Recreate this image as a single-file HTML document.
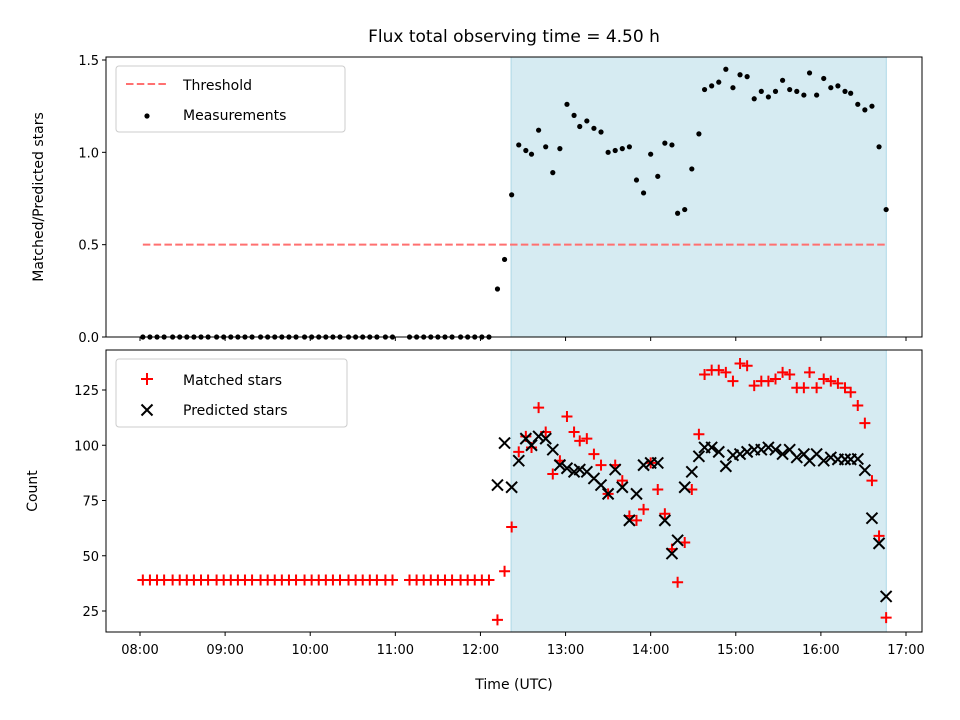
<!DOCTYPE html>
<html><head><meta charset="utf-8"><style>
body{margin:0;background:#fff;}
svg{display:block;font-family:"DejaVu Sans","Liberation Sans",sans-serif;}
</style></head><body>
<svg id="chart" width="960" height="720" viewBox="0 0 960 720" xmlns="http://www.w3.org/2000/svg">
<text x="514" y="42" font-size="17" text-anchor="middle">Flux total observing time = 4.50 h</text>
</svg>
<script>
// minutes after 08:00
const preTimes = [2,7,12,17,23,28,33,38,43,48,54,59,64,69,74,79,85,90,95,100,105,110,116,121,126,131,136,141,147,152,157,162,167,173,178,190,195,200,205,210,215,220,226,231,236,241,246];
const preMatched = [39,39,39,39,39,39,39,39,39,39,39,39,39,39,39,39,39,39,39,39,39,39,39,39,39,39,39,39,39,39,39,39,39,39,39,39,39,39,39,39,39,39,39,39,39,39,39];
const obsTimes = [252,257,262,267,272,276,281,286,291,296,301,306,310,315,320,325,330,335,340,345,350,355,360,365,370,375,379,384,389,394,398,403,408,413,418,423,428,433,438,443,448,453,458,463,468,472,477,482,487,492,497,501,506,511,516,521,526];
const measurements = [0.26,0.42,0.77,1.04,1.01,0.99,1.12,1.03,0.89,1.02,1.26,1.20,1.14,1.17,1.13,1.11,1.00,1.01,1.02,1.03,0.85,0.78,0.99,0.87,1.05,1.04,0.67,0.69,0.91,1.10,1.34,1.36,1.38,1.45,1.35,1.42,1.41,1.29,1.33,1.30,1.33,1.39,1.34,1.33,1.31,1.43,1.31,1.40,1.35,1.36,1.33,1.32,1.26,1.23,1.25,1.03,0.69];
const matched = [21,43,63,97,104,99,117,106,87,93,113,106,102,103,96,91,78,91,84,68,66,71,92,80,69,53,38,56,80,105,132,134,134,133,129,137,136,127,129,129,130,133,132,126,126,133,126,130,129,128,126,124,118,110,84,59,22];
const predicted = [82,101,81,93,103,100,104,103,98,91,89.6,88,89,88,85,82,78,89,81,66,78,91,92,92,66,51,57,81,88,95,99,99,97,90.5,95.5,96,97,98,98,99,98,96,98,94.5,96,93,96,93,94.5,93.6,93.6,93.6,93.8,88.7,67,55.6,31.6];
const threshold = 0.5;
const shadeStart = 261.6, shadeEnd = 526.1;
const xTicks = ["08:00","09:00","10:00","11:00","12:00","13:00","14:00","15:00","16:00","17:00"];
const topTicks = [0.0,0.5,1.0,1.5];
const botTicks = [25,50,75,100,125];

const NS="http://www.w3.org/2000/svg";
const svg=document.getElementById('chart');
function mk(tag,attrs,parent){const e=document.createElementNS(NS,tag);for(const k in attrs)e.setAttribute(k,attrs[k]);(parent||svg).appendChild(e);return e;}
const L=106,R=922;
const X=m=>140+m*(766/540);
const T={top:57,bot:337};const B={top:350,bot:632};
const Yt=v=>337-v*(277/1.5);
const Yb=v=>611-(v-25)*2.21;

for(const ax of [T,B]){
 const r=mk('rect',{x:X(shadeStart),y:ax.top,width:X(shadeEnd)-X(shadeStart),height:ax.bot-ax.top,fill:'#add8e6','fill-opacity':0.5,stroke:'#add8e6'});
 
 
}
const th=mk('line',{x1:X(2),x2:X(526),y1:Yt(threshold),y2:Yt(threshold),stroke:'#ff7070','stroke-width':2,'stroke-dasharray':'7.5,3.3'});


preTimes.forEach(t=>{const c=mk('circle',{cx:X(t),cy:Yt(0),r:2.6,fill:'#000'});
 
 });
obsTimes.forEach((t,i)=>{const c=mk('circle',{cx:X(t),cy:Yt(measurements[i]),r:2.6,fill:'#000'});
 
 });
function plus(x,y,name){const g=mk('path',{d:`M${x-5.5} ${y}H${x+5.5}M${x} ${y-5.5}V${y+5.5}`,stroke:'#ff0000','stroke-width':2});
 
 }
function cross(x,y,name){const g=mk('path',{d:`M${x-5.5} ${y-5.5}L${x+5.5} ${y+5.5}M${x-5.5} ${y+5.5}L${x+5.5} ${y-5.5}`,stroke:'#000','stroke-width':2});
 
 }
preTimes.forEach((t,i)=>plus(X(t),Yb(preMatched[i]),'matched-star-point'));
obsTimes.forEach((t,i)=>plus(X(t),Yb(matched[i]),'matched-star-point'));
obsTimes.forEach((t,i)=>cross(X(t),Yb(predicted[i]),'predicted-star-point'));

for(const [ax,n] of [[T,'top-axes-frame'],[B,'bottom-axes-frame']]){
 const r=mk('rect',{x:L,y:ax.top,width:R-L,height:ax.bot-ax.top,fill:'none',stroke:'#000','stroke-width':1});
 
 
}
xTicks.forEach((lab,i)=>{const x=X(i*60);
 mk('line',{x1:x,x2:x,y1:T.bot,y2:T.bot+4,stroke:'#000'});
 mk('line',{x1:x,x2:x,y1:B.bot,y2:B.bot+4,stroke:'#000'});
 const t=mk('text',{x:x,y:B.bot+22,'font-size':13,'text-anchor':'middle'});t.textContent=lab;
 
 });
topTicks.forEach(v=>{const y=Yt(v);mk('line',{x1:L-4,x2:L,y1:y,y2:y,stroke:'#000'});
 const t=mk('text',{x:L-7,y:y+5,'font-size':13,'text-anchor':'end'});t.textContent=v.toFixed(1);
 
 });
botTicks.forEach(v=>{const y=Yb(v);mk('line',{x1:L-4,x2:L,y1:y,y2:y,stroke:'#000'});
 const t=mk('text',{x:L-7,y:y+5,'font-size':13,'text-anchor':'end'});t.textContent=v;
 
 });
</script>
<svg style="position:absolute;left:0;top:0" width="960" height="720" font-family="DejaVu Sans, Liberation Sans, sans-serif">
<text x="514" y="689" font-size="14" text-anchor="middle">Time (UTC)</text>
<text transform="translate(43,197) rotate(-90)" font-size="14" text-anchor="middle">Matched/Predicted stars</text>
<text transform="translate(37,491) rotate(-90)" font-size="14" text-anchor="middle">Count</text>
<g>
<rect x="116" y="66" width="229" height="66" rx="3" fill="#fff" fill-opacity="0.8" stroke="#ccc"/>
<line x1="126" y1="84" x2="167" y2="84" stroke="#ff7070" stroke-width="2" stroke-dasharray="7.5,3.3"/>
<text x="183" y="90" font-size="14">Threshold</text>
<circle cx="147" cy="116" r="2.6" fill="#000"/>
<text x="183" y="120" font-size="14">Measurements</text>
</g>
<g>
<rect x="116" y="359" width="231" height="68" rx="3" fill="#fff" fill-opacity="0.8" stroke="#ccc"/>
<path d="M141 379H153M147 373V385" stroke="#ff0000" stroke-width="2"/>
<text x="183" y="385" font-size="14">Matched stars</text>
<path d="M141.5 404.5L152.5 415.5M141.5 415.5L152.5 404.5" stroke="#000" stroke-width="2"/>
<text x="183" y="415" font-size="14">Predicted stars</text>
</g>
</svg>
</body></html>
